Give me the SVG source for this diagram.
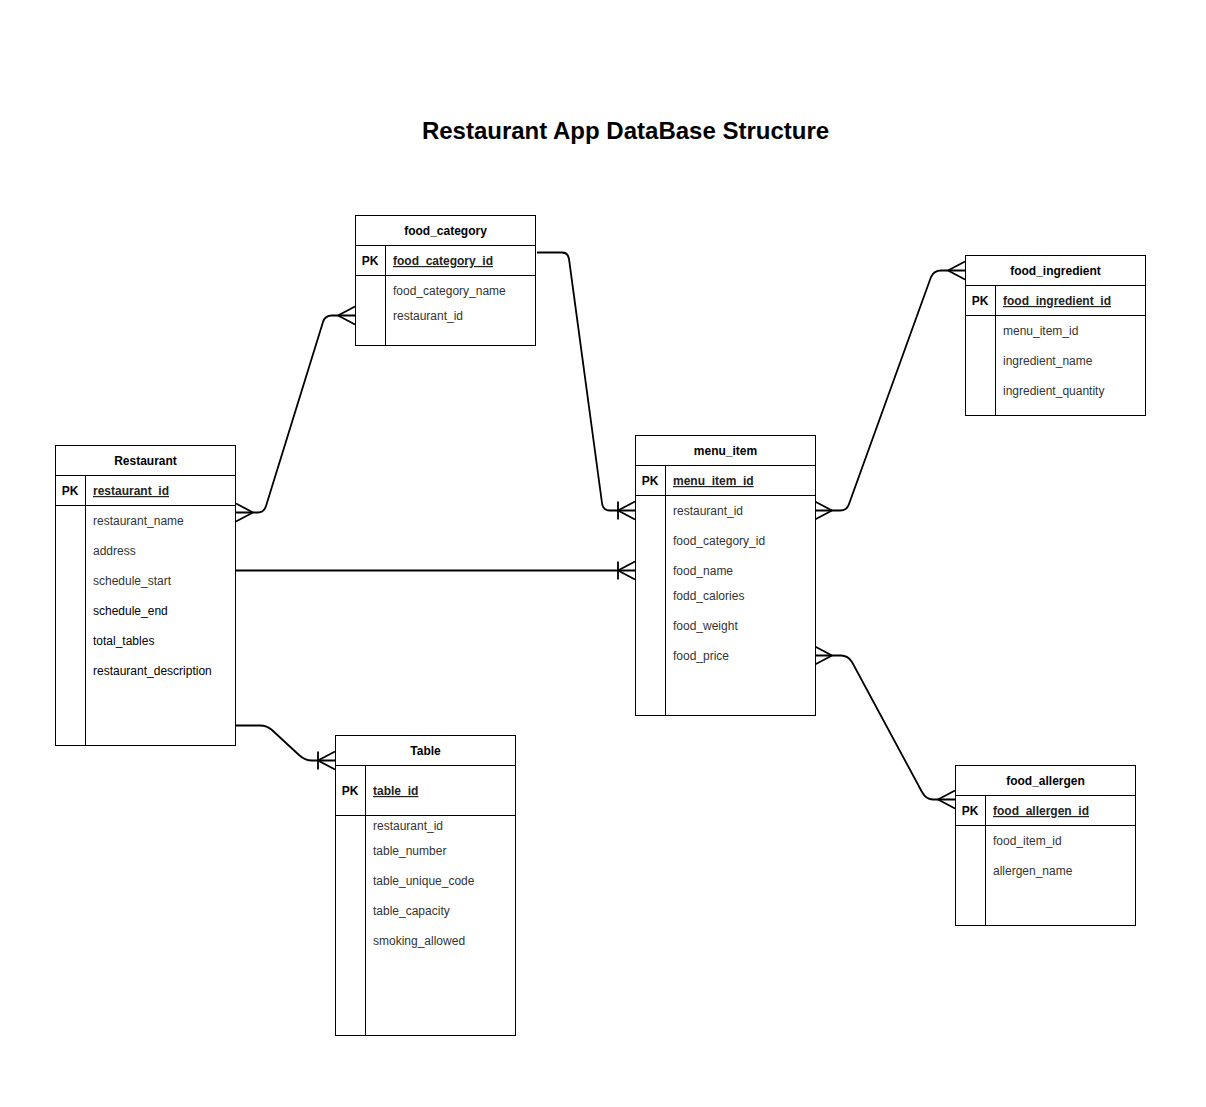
<svg xmlns="http://www.w3.org/2000/svg" width="1206" height="1107" viewBox="0 0 1206 1107">
<style>
  text { font-family: "Liberation Sans", Arial, sans-serif; font-size: 12px; }
  .box { fill: #ffffff; stroke: #000000; stroke-width: 1; }
  .sep { stroke: #000000; stroke-width: 1; fill: none; }
  .hdr { font-weight: bold; text-anchor: middle; fill: #000000; }
  .pk { font-weight: bold; text-anchor: middle; fill: #000000; }
  .key { font-weight: bold; text-decoration: underline; fill: #222222; }
  .fld { fill: #333333; }
  .fldb { fill: #000000; }
  .title { font-size: 24px; font-weight: bold; text-anchor: middle; fill: #000000; }
  .conn { fill: none; stroke: #000000; stroke-width: 1.8; }
</style>
<defs>
  <marker id="many" markerUnits="userSpaceOnUse" orient="auto-start-reverse" refX="0" refY="0" markerWidth="40" markerHeight="40" overflow="visible">
    <path d="M-17,0 L0,-9 M-17,0 L0,9" fill="none" stroke="#000000" stroke-width="1.8"/>
  </marker>
  <marker id="oneMany" markerUnits="userSpaceOnUse" orient="auto-start-reverse" refX="0" refY="0" markerWidth="40" markerHeight="40" overflow="visible">
    <path d="M-17,0 L0,-9 M-17,0 L0,9 M-17,-9 L-17,9" fill="none" stroke="#000000" stroke-width="1.8"/>
  </marker>
</defs>
<rect x="0" y="0" width="1206" height="1107" fill="#ffffff"/>
<text class="title" x="625.5" y="139">Restaurant App DataBase Structure</text>

<g id="connectors">
  <path class="conn" d="M236,512.5 L258,512.5 Q264,512.5 266,506 L323,322 Q325,315.5 332,315.5 L355,315.5" marker-start="url(#many)" marker-end="url(#many)"/>
  <path class="conn" d="M537,252.5 L562,252.5 Q568,252.5 569,259 L602,503 Q603,510.5 610,510.5 L635,510.5" marker-end="url(#oneMany)"/>
  <path class="conn" d="M236,570.5 L635,570.5" marker-end="url(#oneMany)"/>
  <path class="conn" d="M236,725.5 L260,725.5 Q267,725.5 272,730 L299,755 Q305,760.5 312,760.5 L335,760.5" marker-end="url(#oneMany)"/>
  <path class="conn" d="M815,510.5 L840,510.5 Q847,510.5 849,504 L931,277 Q934,270.5 941,270.5 L965,270.5" marker-start="url(#many)" marker-end="url(#many)"/>
  <path class="conn" d="M815,655.5 L841,655.5 Q848,655.5 852,662 L922,792 Q926,799.5 933,799.5 L955,799.5" marker-start="url(#many)" marker-end="url(#many)"/>
</g>

<g id="food_category">
  <rect class="box" x="355.5" y="215.5" width="180" height="130"/>
  <path class="sep" d="M355.5,245.5 H535.5 M355.5,275.5 H535.5 M385.5,245.5 V345.5"/>
  <text class="hdr" x="445.5" y="235">food_category</text>
  <text class="pk" x="370" y="265">PK</text>
  <text class="key" x="393" y="265">food_category_id</text>
  <text class="fld" x="393" y="295">food_category_name</text>
  <text class="fld" x="393" y="320">restaurant_id</text>
</g>

<g id="restaurant">
  <rect class="box" x="55.5" y="445.5" width="180" height="300"/>
  <path class="sep" d="M55.5,475.5 H235.5 M55.5,505.5 H235.5 M85.5,475.5 V745.5"/>
  <text class="hdr" x="145.5" y="465">Restaurant</text>
  <text class="pk" x="70" y="495">PK</text>
  <text class="key" x="93" y="495">restaurant_id</text>
  <text class="fld" x="93" y="525">restaurant_name</text>
  <text class="fld" x="93" y="555">address</text>
  <text class="fld" x="93" y="585">schedule_start</text>
  <text class="fldb" x="93" y="615">schedule_end</text>
  <text class="fldb" x="93" y="645">total_tables</text>
  <text class="fldb" x="93" y="675">restaurant_description</text>
</g>

<g id="menu_item">
  <rect class="box" x="635.5" y="435.5" width="180" height="280"/>
  <path class="sep" d="M635.5,465.5 H815.5 M635.5,495.5 H815.5 M665.5,465.5 V715.5"/>
  <text class="hdr" x="725.5" y="455">menu_item</text>
  <text class="pk" x="650" y="485">PK</text>
  <text class="key" x="673" y="485">menu_item_id</text>
  <text class="fld" x="673" y="515">restaurant_id</text>
  <text class="fld" x="673" y="545">food_category_id</text>
  <text class="fld" x="673" y="575">food_name</text>
  <text class="fld" x="673" y="600">fodd_calories</text>
  <text class="fld" x="673" y="630">food_weight</text>
  <text class="fld" x="673" y="660">food_price</text>
</g>

<g id="food_ingredient">
  <rect class="box" x="965.5" y="255.5" width="180" height="160"/>
  <path class="sep" d="M965.5,285.5 H1145.5 M965.5,315.5 H1145.5 M995.5,285.5 V415.5"/>
  <text class="hdr" x="1055.5" y="275">food_ingredient</text>
  <text class="pk" x="980" y="305">PK</text>
  <text class="key" x="1003" y="305">food_ingredient_id</text>
  <text class="fld" x="1003" y="335">menu_item_id</text>
  <text class="fld" x="1003" y="365">ingredient_name</text>
  <text class="fld" x="1003" y="395">ingredient_quantity</text>
</g>

<g id="food_allergen">
  <rect class="box" x="955.5" y="765.5" width="180" height="160"/>
  <path class="sep" d="M955.5,795.5 H1135.5 M955.5,825.5 H1135.5 M985.5,795.5 V925.5"/>
  <text class="hdr" x="1045.5" y="785">food_allergen</text>
  <text class="pk" x="970" y="815">PK</text>
  <text class="key" x="993" y="815">food_allergen_id</text>
  <text class="fld" x="993" y="845">food_item_id</text>
  <text class="fld" x="993" y="875">allergen_name</text>
</g>

<g id="table">
  <rect class="box" x="335.5" y="735.5" width="180" height="300"/>
  <path class="sep" d="M335.5,765.5 H515.5 M335.5,815.5 H515.5 M365.5,765.5 V1035.5"/>
  <text class="hdr" x="425.5" y="755">Table</text>
  <text class="pk" x="350" y="795">PK</text>
  <text class="key" x="373" y="795">table_id</text>
  <text class="fld" x="373" y="830">restaurant_id</text>
  <text class="fld" x="373" y="855">table_number</text>
  <text class="fld" x="373" y="885">table_unique_code</text>
  <text class="fld" x="373" y="915">table_capacity</text>
  <text class="fld" x="373" y="945">smoking_allowed</text>
</g>
</svg>
